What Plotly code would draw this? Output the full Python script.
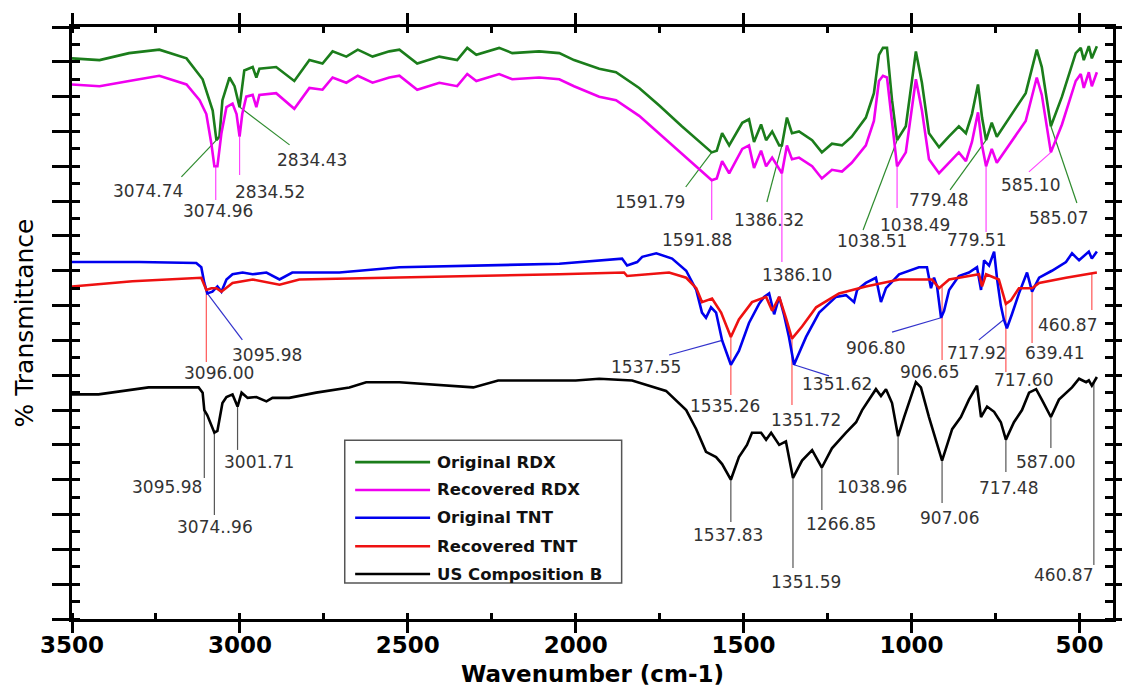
import numpy as np
import plotly.graph_objects as go

# ---------------- data (wavenumber cm-1, offset % transmittance) ----------------
names = ["Original RDX", "Recovered RDX", "Original TNT", "Recovered TNT", "US Composition B"]
colors = ["#1b7d1b", "#f000f0", "#0000ee", "#ee1111", "#000000"]
lead_colors = ["#2e8b2e", "#ff44ff", "#3333cc", "#ff5555", "#555555"]

rdx_orig_wn = [3500, 3418, 3330, 3240, 3159, 3111, 3081, 3070, 3061, 3052, 3031, 3016, 3001, 2987,
               2962, 2951, 2942, 2892, 2838, 2793, 2754, 2724, 2683, 2649, 2605, 2555, 2525, 2472,
               2406, 2353, 2323, 2296, 2228, 2189, 2109, 2049, 2005, 1930, 1880, 1811, 1752, 1684,
               1595, 1580, 1564, 1543, 1504, 1484, 1469, 1448, 1433, 1415, 1394, 1386, 1371, 1356,
               1335, 1296, 1267, 1237, 1207, 1178, 1136, 1112, 1097, 1085, 1073, 1067, 1058, 1043,
               1017, 987, 969, 948, 918, 889, 859, 838, 820, 802, 790, 778, 761, 746, 689, 660,
               627, 612, 585, 552, 511, 496, 487, 472, 463, 448]
rdx_orig_t = [32.2, 32.1, 32.5, 32.7, 32.2, 31.0, 29.2, 27.5, 27.7, 29.8, 31.1, 30.6, 29.4, 31.5,
              31.7, 31.1, 31.6, 31.7, 30.9, 32.1, 31.9, 32.6, 32.3, 32.7, 32.3, 32.6, 32.7, 31.9,
              32.3, 32.1, 32.8, 32.4, 32.8, 32.5, 32.6, 32.5, 32.1, 31.6, 31.4, 30.5, 29.5, 28.3,
              26.8, 26.9, 27.9, 27.2, 28.5, 28.7, 27.4, 28.4, 27.5, 28.0, 27.2, 27.2, 28.8, 27.9,
              28.0, 27.5, 26.8, 27.3, 27.2, 27.7, 28.8, 30.2, 32.4, 32.8, 32.8, 31.7, 29.8, 27.5,
              28.3, 32.6, 30.8, 27.9, 27.1, 27.7, 28.3, 27.9, 29.0, 30.7, 28.8, 27.5, 28.5, 27.7, 29.4, 30.2,
              32.7, 31.7, 28.3, 30.0, 32.5, 32.8, 32.1, 32.9, 32.2, 32.9]

rdx_rec_wn = [3500, 3418, 3330, 3240, 3159, 3120, 3100, 3085, 3076, 3067, 3055, 3040, 3022, 3010,
              3001, 2993, 2981, 2962, 2951, 2942, 2892, 2838, 2793, 2754, 2724, 2683, 2649, 2605,
              2555, 2525, 2472, 2406, 2353, 2323, 2296, 2228, 2189, 2109, 2049, 2005, 1930, 1880,
              1811, 1752, 1684, 1595, 1580, 1564, 1543, 1504, 1484, 1469, 1448, 1433, 1415, 1394,
              1386, 1371, 1356, 1335, 1296, 1267, 1237, 1207, 1178, 1136, 1112, 1097, 1085, 1073,
              1067, 1058, 1043, 1017, 987, 969, 948, 918, 889, 859, 838, 820, 802, 790, 778, 761,
              746, 689, 660, 627, 612, 585, 552, 511, 496, 487, 472, 463, 448]
rdx_rec_t = [30.7, 30.6, 30.9, 31.2, 30.7, 29.8, 29.0, 27.3, 26.0, 26.0, 27.9, 29.4, 29.6, 29.0,
             27.7, 29.0, 30.0, 30.1, 29.4, 30.1, 30.2, 29.3, 30.5, 30.4, 31.1, 30.8, 31.2, 30.8,
             31.1, 31.2, 30.4, 30.8, 30.6, 31.3, 30.9, 31.3, 31.0, 31.1, 31.0, 30.6, 30.0, 29.8,
             28.9, 27.9, 26.7, 25.2, 25.3, 26.3, 25.6, 27.0, 27.2, 25.9, 26.9, 26.0, 26.5, 25.8,
             25.6, 27.2, 26.4, 26.5, 26.0, 25.3, 25.8, 25.7, 26.2, 27.2, 28.6, 30.9, 31.2, 31.1,
             30.1, 28.3, 26.0, 26.8, 31.0, 29.2, 26.4, 25.6, 26.2, 26.8, 26.3, 27.4, 29.1, 27.2, 26.0, 27.0,
             26.2, 27.8, 28.6, 31.1, 30.1, 26.8, 28.4, 30.9, 31.3, 30.5, 31.4, 30.6, 31.4]

tnt_orig_wn = [3500, 3300, 3130, 3115, 3106, 3097, 3082, 3067, 3055, 3040, 3022, 2992, 2962, 2921,
               2882, 2844, 2773, 2704, 2525, 2300, 2049, 1862, 1847, 1817, 1802, 1760, 1713, 1671,
               1641, 1624, 1612, 1597, 1582, 1564, 1538, 1514, 1484, 1454, 1439, 1424, 1409, 1394,
               1380, 1365, 1350, 1314, 1275, 1225, 1195, 1171, 1162, 1136, 1106, 1091, 1076, 1037,
               978, 954, 942, 933, 924, 912, 903, 888, 859, 829, 805, 793, 784, 769, 754, 745, 734,
               725, 716, 701, 680, 656, 641, 620, 582, 540, 522, 501, 472, 463, 448]
tnt_orig_t = [20.5, 20.5, 20.45, 20.2, 19.3, 18.7, 18.8, 19.1, 18.8, 19.5, 19.8, 19.9, 19.8, 19.9,
              19.5, 19.9, 19.9, 19.9, 20.2, 20.3, 20.4, 20.7, 20.3, 20.5, 20.8, 21.0, 20.7, 20.0,
              18.9, 17.6, 17.3, 17.9, 17.6, 16.0, 14.6, 15.4, 17.0, 18.1, 18.5, 18.7, 17.5, 18.5,
              17.5, 16.2, 14.6, 16.2, 17.6, 18.5, 18.6, 18.2, 18.9, 19.3, 19.6, 18.2, 19.0, 19.8,
              20.2, 20.2, 19.0, 19.6, 19.1, 17.3, 17.7, 18.9, 19.7, 19.9, 20.2, 18.9, 20.6, 20.3, 21.1, 19.5, 18.0,
              17.2, 16.7, 17.5, 18.7, 19.9, 18.8, 19.6, 20.0, 20.5, 21.0, 20.6, 21.1, 20.7, 21.1]

tnt_rec_wn = [3500, 3320, 3115, 3100, 3085, 3070, 3055, 3022, 2962, 2882, 2823, 2525, 2049, 1856,
              1847, 1722, 1671, 1641, 1624, 1594, 1567, 1538, 1514, 1475, 1433, 1415, 1394, 1374,
              1356, 1326, 1284, 1216, 1136, 1037, 939, 918, 888, 799, 790, 778, 740, 719, 704, 680,
              641, 620, 540, 448]
tnt_rec_t = [19.1, 19.4, 19.6, 18.9, 19.0, 19.0, 18.8, 19.3, 19.5, 19.2, 19.5, 19.6, 19.8, 19.9,
             19.7, 19.9, 19.6, 19.0, 18.2, 18.4, 17.6, 16.2, 17.2, 18.2, 18.5, 17.7, 18.5, 17.3,
             16.1, 16.8, 17.9, 18.7, 19.1, 19.5, 19.5, 19.0, 19.5, 19.8, 19.1, 19.8, 19.5, 18.1, 18.3, 19.0,
             19.0, 19.3, 19.6, 19.9]

compb_wn = [3500, 3421, 3272, 3150, 3123, 3111, 3106, 3097, 3082, 3076, 3067, 3061, 3052, 3040,
            3022, 3007, 2995, 2977, 2951, 2921, 2903, 2853, 2773, 2674, 2624, 2525, 2386, 2305,
            2231, 2000, 1930, 1832, 1731, 1671, 1641, 1612, 1582, 1564, 1538, 1514, 1490, 1475,
            1448, 1433, 1418, 1394, 1374, 1353, 1326, 1296, 1267, 1237, 1195, 1165, 1147, 1106,
            1091, 1076, 1058, 1040, 1022, 987, 972, 948, 909, 879, 853, 829, 805, 793, 775, 754,
            734, 719, 695, 671, 650, 629, 612, 585, 561, 522, 501, 480, 472, 463, 448]
compb_t = [12.9, 12.9, 13.3, 13.3, 13.3, 13.0, 12.0, 11.7, 10.9, 10.7, 10.8, 11.4, 12.4, 12.75,
           12.9, 12.2, 13.0, 12.7, 12.75, 12.5, 12.7, 12.7, 13.0, 13.3, 13.6, 13.6, 13.4, 13.3,
           13.7, 13.7, 13.8, 13.7, 13.1, 12.0, 10.9, 9.6, 9.3, 8.9, 8.0, 9.3, 10.0, 10.7,
           10.7, 10.3, 10.7, 10.0, 10.2, 8.1, 9.1, 9.7, 8.7, 9.8, 10.7, 11.3, 12.0, 13.2,
           12.8, 13.2, 12.4, 10.5, 11.6, 13.6, 13.3, 11.6, 9.1, 10.9, 11.6, 12.6, 13.4, 11.6, 12.2, 11.9,
           11.3, 10.3, 11.3, 12.0, 13.0, 13.2, 12.6, 11.6, 12.6, 13.3, 13.8, 13.6, 13.7, 13.4, 13.9]

series_wn = [rdx_orig_wn, rdx_rec_wn, tnt_orig_wn, tnt_rec_wn, compb_wn]
series_t = [rdx_orig_t, rdx_rec_t, tnt_orig_t, tnt_rec_t, compb_t]

x_ticks = [3500, 3000, 2500, 2000, 1500, 1000, 500]

# peak labels: (series index, label, peak wavenumber)
peak_labels = [
    (0, "3074.74", 3070), (0, "2834.43", 3001), (0, "1591.79", 1595), (0, "1386.32", 1386),
    (0, "1038.51", 1043), (0, "779.48", 778), (0, "585.07", 585),
    (1, "3074.96", 3072), (1, "2834.52", 3001), (1, "1591.88", 1595), (1, "1386.10", 1386),
    (1, "1038.49", 1043), (1, "779.51", 778), (1, "585.10", 585),
    (2, "3095.98", 3097), (2, "1537.55", 1564), (2, "1351.62", 1350), (2, "906.80", 912),
    (2, "717.92", 725),
    (3, "3096.00", 3100), (3, "1535.26", 1538), (3, "1351.72", 1356), (3, "906.65", 909),
    (3, "717.60", 719), (3, "639.41", 641), (3, "460.87", 463),
    (4, "3095.98", 3106), (4, "3074..96", 3076), (4, "3001.71", 3007), (4, "1537.83", 1538),
    (4, "1351.59", 1353), (4, "1266.85", 1267), (4, "1038.96", 1040), (4, "907.06", 909),
    (4, "717.48", 719), (4, "587.00", 585), (4, "460.87", 457),
]
# label placement: (leader end dx px, leader end y, text dx px, text y)
label_pos = [
    (-35, 25.39, -68, 24.58), (50, 27.23, 72, 26.36), (-26, 24.81, -62, 23.95), (-15, 23.95, -13, 22.92),
    (-34, 22.34, -25, 21.71), (-36, 24.64, -48, 24.07), (26, 23.89, 8, 23.03),
    (0, 24.07, 2, 23.43), (0, 25.50, 30, 24.53), (0, 22.92, -15, 21.77), (0, 20.51, 15, 19.76),
    (0, 23.61, 18, 22.63), (0, 22.23, -10, 21.77), (-22, 25.68, -20, 24.93),
    (35, 16.03, 60, 15.16), (-53, 15.16, -76, 14.47), (35, 13.96, 43, 13.50), (-49, 16.48, -66, 15.57),
    (-25, 16.03, -27, 15.28),
    (0, 14.76, 13, 14.13), (0, 12.87, -6, 12.23), (0, 12.29, 14, 11.43), (0, 14.88, -13, 14.19),
    (0, 14.19, 18, 13.73), (0, 15.85, 22, 15.28), (0, 17.75, -24, 16.89),
    (0, 8.10, -37, 7.58), (0, 5.97, 1, 5.28), (0, 9.71, 21, 9.02), (0, 5.57, -3, 4.82),
    (0, 2.93, 13, 2.13), (0, 6.26, 19, 5.46), (0, 8.27, -26, 7.58), (0, 6.66, 7, 5.80),
    (0, 8.44, 3, 7.52), (0, 9.82, -5, 9.02), (0, 3.10, -30, 2.53),
]

# ---------------- figure ----------------
fig = go.Figure()
for name, col, wn, t in zip(names, colors, series_wn, series_t):
    fig.add_trace(go.Scatter(x=wn, y=t, mode="lines", name=name, showlegend=False,
                             line=dict(color=col, width=2.6)))

shapes = []
annotations = []
for (si, text, pk), (ldx, ly, tdx, ty) in zip(peak_labels, label_pos):
    wn_arr = np.array(series_wn[si][::-1], dtype=float)
    t_arr = np.array(series_t[si][::-1], dtype=float)
    y0 = float(np.interp(pk, wn_arr, t_arr))
    shapes.append(dict(type="line", xref="x", yref="y", xsizemode="pixel", xanchor=pk,
                       x0=0, x1=ldx, y0=y0, y1=ly, layer="below",
                       line=dict(color=lead_colors[si], width=1.2)))
    annotations.append(dict(x=pk, y=ty, xref="x", yref="y", xshift=tdx, text=text,
                            showarrow=False, font=dict(family="DejaVu Sans", size=17, color="#333333")))

# custom legend (box, line samples, bold labels) in paper coordinates
leg_x0, leg_x1, leg_y0, leg_y1 = 0.262, 0.528, 0.061, 0.302
shapes.append(dict(type="rect", xref="paper", yref="paper", x0=leg_x0, x1=leg_x1, y0=leg_y0, y1=leg_y1,
                   line=dict(color="#555555", width=1.5), fillcolor="white", layer="above"))
row_y = [0.265, 0.218, 0.171, 0.123, 0.076]
for name, col, ry in zip(names, colors, row_y):
    shapes.append(dict(type="line", xref="paper", yref="paper", x0=0.272, x1=0.344, y0=ry, y1=ry,
                       line=dict(color=col, width=2.6), layer="above"))
    annotations.append(dict(x=0.349, y=ry, xref="paper", yref="paper", xanchor="left", yanchor="middle",
                            text=name, showarrow=False,
                            font=dict(family="DejaVu Sans", size=16.5, color="#111111", weight="bold")))

axis_common = dict(showline=True, linecolor="black", linewidth=2.5, mirror="allticks",
                   showgrid=False, zeroline=False, tickcolor="black", tickwidth=2.5, automargin=False)

fig.update_layout(
    width=1122, height=692,
    margin=dict(l=72, r=9, t=27, b=73, autoexpand=False),
    paper_bgcolor="white", plot_bgcolor="white",
    showlegend=False,
    shapes=shapes, annotations=annotations,
    xaxis=dict(range=[3500, 400], tickvals=x_ticks, ticktext=[str(v) for v in x_ticks],
               ticks="outside", ticklen=11, ticklabelstandoff=-7,
               minor=dict(dtick=250, tick0=0, ticks="inside", ticklen=6, tickwidth=2.5, tickcolor="black"),
               tickfont=dict(family="DejaVu Sans", size=23, color="black", weight="bold"),
               title=dict(text="Wavenumber (cm-1)", standoff=9,
                          font=dict(family="DejaVu Sans", size=23, color="black", weight="bold")),
               **axis_common),
    yaxis=dict(range=[0, 34], tick0=0, dtick=2, ticks="outside", ticklen=17, showticklabels=False,
               minor=dict(dtick=1, tick0=0, ticks="inside", ticklen=8, tickwidth=2.5, tickcolor="black"),
               title=dict(text="% Transmittance", standoff=12,
                          font=dict(family="DejaVu Sans", size=25, color="black")),
               **axis_common),
)

fig.write_html("out.html")
